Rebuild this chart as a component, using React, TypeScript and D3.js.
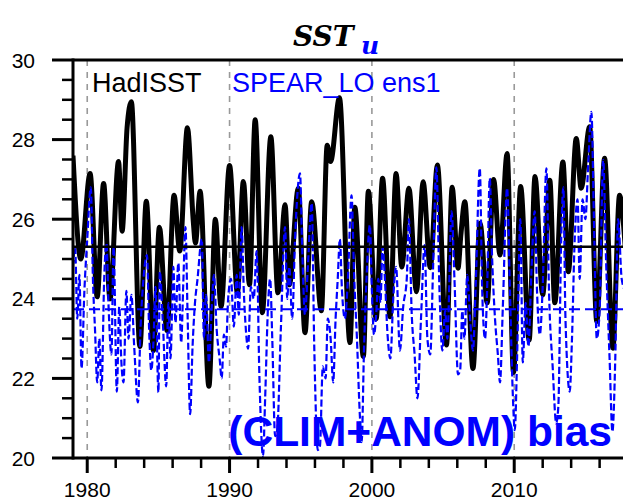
import React from 'react';
import * as d3 from 'd3';

const hadTime = [
  1979.0, 1979.55, 1980.2, 1980.7, 1981.15, 1981.6, 1982.2, 1982.45, 1982.8, 1983.1,
  1983.7, 1984.15, 1984.65, 1985.07, 1985.6, 1986.1, 1986.5, 1987.04, 1987.45, 1987.6,
  1987.93, 1988.55, 1989.0, 1989.4, 1990.0, 1990.55, 1990.97, 1991.4, 1991.8, 1992.3,
  1992.9, 1993.4, 1993.9, 1994.2, 1994.83, 1995.3, 1995.77, 1996.45, 1996.86, 1997.1,
  1997.72, 1998.46, 1998.8, 1999.4, 1999.75, 2000.3, 2000.75, 2001.27, 2001.7, 2002.1,
  2002.6, 2003.13, 2003.6, 2004.1, 2004.6, 2005.24, 2005.64, 2006.05, 2006.25, 2006.53,
  2007.1, 2007.6, 2008.1, 2008.55, 2009.0, 2009.5, 2009.95, 2010.45, 2011.05, 2011.46,
  2012.0, 2012.5, 2012.85, 2013.42, 2013.8, 2014.36, 2014.7, 2015.3, 2015.8, 2016.35,
  2016.93, 2017.4, 2017.8,
];
const hadValue = [
  27.6, 25.0, 27.15, 24.05, 26.9, 24.0, 27.45, 25.7, 28.3, 28.95,
  22.8, 26.45, 22.7, 25.8, 23.2, 26.6, 25.2, 28.3, 25.95, 25.4,
  26.7, 21.8, 26.0, 23.8, 27.35, 24.15, 26.95, 24.35, 28.5, 23.65,
  28.07, 24.15, 26.36, 24.35, 26.78, 23.15, 26.44, 23.7, 27.86, 27.45,
  29.05, 22.9, 26.3, 22.55, 26.7, 23.5, 27.03, 23.55, 27.15, 24.8,
  26.78, 24.18, 26.94, 24.78, 27.36, 22.84, 26.8, 24.77, 25.6, 26.44,
  22.25, 25.9, 23.9, 27.0, 25.1, 27.65, 22.15, 26.82, 22.96, 27.07,
  24.1, 26.98, 23.9, 27.44, 24.68, 28.03, 26.78, 28.32, 23.43, 27.53,
  22.76, 26.6, 25.3,
];

// SPEAR_LO ens1 (model)
const spearTime = [
  1979.0, 1979.15, 1979.3, 1979.45, 1979.6, 1979.8, 1980.0, 1980.25, 1980.4, 1980.55,
  1980.7, 1980.85, 1981.0, 1981.2, 1981.35, 1981.5, 1981.7, 1981.85, 1982.08, 1982.25,
  1982.4, 1982.55, 1982.75, 1982.9, 1983.1, 1983.3, 1983.56, 1983.75, 1983.95, 1984.2,
  1984.35, 1984.5, 1984.65, 1984.8, 1985.0, 1985.1, 1985.3, 1985.55, 1985.7, 1985.85,
  1986.05, 1986.2, 1986.4, 1986.6, 1986.75, 1986.9, 1987.05, 1987.23, 1987.4, 1987.55,
  1987.75, 1988.05, 1988.2, 1988.35, 1988.55, 1988.75, 1988.9, 1989.1, 1989.3, 1989.45,
  1989.6, 1989.75, 1989.9, 1990.1, 1990.3, 1990.5, 1990.65, 1990.85, 1991.0, 1991.15,
  1991.3, 1991.5, 1991.7, 1991.9, 1992.1, 1992.35, 1992.5, 1992.7, 1992.85, 1993.0,
  1993.2, 1993.35, 1993.6, 1993.9, 1994.05, 1994.2, 1994.4, 1994.6, 1994.95, 1995.1,
  1995.3, 1995.5, 1995.77, 1995.95, 1996.2, 1996.35, 1996.55, 1996.75, 1996.9, 1997.1,
  1997.28, 1997.45, 1997.6, 1997.75, 1997.9, 1998.1, 1998.3, 1998.57, 1998.75, 1998.95,
  1999.15, 1999.28, 1999.45, 1999.6, 1999.86, 2000.0, 2000.15, 2000.3, 2000.45, 2000.6,
  2000.75, 2000.9, 2001.1, 2001.3, 2001.5, 2001.7, 2001.97, 2002.2, 2002.45, 2002.6,
  2002.8, 2003.0, 2003.2, 2003.45, 2003.7, 2003.9, 2004.1, 2004.3, 2004.53, 2004.75,
  2004.95, 2005.15, 2005.3, 2005.6, 2005.8, 2006.05, 2006.2, 2006.35, 2006.5, 2006.7,
  2006.9, 2007.1, 2007.3, 2007.58, 2007.75, 2007.95, 2008.1, 2008.28, 2008.45, 2008.65,
  2008.85, 2009.0, 2009.2, 2009.5, 2009.7, 2009.9, 2010.04, 2010.2, 2010.43, 2010.6,
  2010.8, 2011.0, 2011.2, 2011.44, 2011.6, 2011.8, 2012.0, 2012.26, 2012.45, 2012.7,
  2012.95, 2013.1, 2013.3, 2013.45, 2013.6, 2013.9, 2014.05, 2014.25, 2014.45, 2014.6,
  2014.8, 2015.0, 2015.2, 2015.42, 2015.6, 2015.8, 2016.0, 2016.25, 2016.45, 2016.7,
  2016.9, 2017.1, 2017.3, 2017.55, 2017.8,
];
const spearValue = [
  24.8, 25.3, 23.5, 24.6, 22.25, 24.2, 25.5, 26.8, 24.5, 23.2,
  21.9, 23.0, 21.7, 24.6, 25.4, 23.8, 22.6, 25.3, 21.67, 23.8,
  22.4, 21.9, 24.2, 23.0, 24.1, 22.8, 21.4, 23.3, 24.5, 25.1,
  23.2, 22.2, 22.9, 24.3, 21.65, 24.68, 23.5, 21.8, 23.9, 22.5,
  24.8, 23.4, 24.9, 22.9, 24.4, 25.8, 23.6, 21.1, 22.8, 23.8,
  24.5, 25.5, 23.0, 24.1, 22.4, 23.8, 24.6, 23.2, 22.5, 22.0,
  23.1, 22.8, 24.0, 24.5, 23.3, 24.6, 23.6, 25.8, 24.2, 23.2,
  22.75, 24.3, 24.0, 25.2, 22.0, 20.05, 21.5, 23.8, 24.5, 23.0,
  20.55, 20.7, 23.2, 25.8, 24.0, 24.8, 23.5, 25.5, 27.15, 25.3,
  23.6, 24.8, 26.4, 22.8, 20.2, 20.3, 22.3, 22.0, 23.5, 23.0,
  21.9, 23.5, 24.5, 25.5, 24.2, 23.5, 24.4, 26.6, 24.6, 23.0,
  21.1, 20.4, 22.8, 24.3, 25.85, 24.2, 23.1, 23.6, 24.5, 23.9,
  25.3, 24.6, 23.1, 22.5, 24.0, 24.8, 22.7, 23.8, 24.5, 26.0,
  23.6, 22.6, 21.5, 23.5, 25.35, 23.0, 22.6, 24.8, 27.3, 24.2,
  22.7, 23.7, 23.0, 26.2, 24.5, 22.1, 22.2, 23.7, 23.0, 24.6,
  23.5, 22.7, 24.4, 27.28, 24.2, 23.0, 24.3, 27.03, 25.0, 23.5,
  22.6, 21.9, 23.8, 26.78, 24.2, 21.6, 20.7, 22.5, 26.0, 22.4,
  23.9, 22.8, 24.6, 26.2, 24.2, 23.1, 24.3, 27.28, 24.1, 22.3,
  20.87, 21.3, 25.5, 26.8, 23.5, 21.67, 22.9, 25.5, 26.5, 24.5,
  26.5, 26.0, 27.4, 28.7, 26.0, 23.0, 23.7, 27.49, 25.0, 22.5,
  20.66, 22.5, 26.0, 24.5, 24.2,
];

const hadMean = 25.31;
const spearMean = 23.74;

const yMajorTicks = [20, 22, 24, 26, 28, 30];
const xMajorTicks = [1980, 1990, 2000, 2010];
const seriesNames = ['HadISST', 'SPEAR_LO ens1'];
const titleMain = 'SST';
const titleSub = 'u';
const panelNote = '(CLIM+ANOM) bias';

const W = 623;
const H = 501;
const left = 73;
const top = 60;
const bottom = 458;
const pxPerYear = 14.233;

export default function App() {
  const x = d3.scaleLinear().domain([1979, 2019]).range([left, left + 40 * pxPerYear]);
  const y = d3.scaleLinear().domain([20, 30]).range([bottom, top]);
  const right = x(2019);

  const hadPts: [number, number][] = hadTime.map((t, i) => [t, hadValue[i]]);
  const spearPts: [number, number][] = spearTime.map((t, i) => [t, spearValue[i]]);

  const hadLine = d3
    .line<[number, number]>()
    .x((d) => x(d[0]))
    .y((d) => y(d[1]))
    .curve(d3.curveMonotoneX);
  const spearLine = d3
    .line<[number, number]>()
    .x((d) => x(d[0]))
    .y((d) => y(d[1]))
    .curve(d3.curveMonotoneX);

  const yMinor = d3.range(20, 30.001, 0.5).filter((v) => !yMajorTicks.includes(v));
  const xMinor = d3.range(1980, 2019, 2).filter((v) => !xMajorTicks.includes(v));

  const font = "'Liberation Sans', Arial, Helvetica, sans-serif";

  return (
    <svg
      width={W}
      height={H}
      style={{ position: 'absolute', left: 0, top: 0, background: '#fff' }}
    >
      <defs>
        <clipPath id="plotClip">
          <rect x={left} y={top} width={right - left} height={bottom - top} />
        </clipPath>
      </defs>
      <rect x={0} y={0} width={W} height={H} fill="#fff" />

      {/* title */}
      <text
        x={293}
        y={46}
        fontFamily="'DejaVu Serif', 'Liberation Serif', serif"
        fontWeight="bold"
        fontStyle="italic"
        fontSize={28}
        fill="#000"
      >
        {titleMain}
      </text>
      <text
        x={361}
        y={54}
        fontFamily="'DejaVu Serif', 'Liberation Serif', serif"
        fontWeight="bold"
        fontStyle="italic"
        fontSize={25}
        fill="#0000ff"
      >
        {titleSub}
      </text>

      {/* vertical reference lines */}
      {xMajorTicks.map((t) => (
        <line
          key={'v' + t}
          x1={x(t)}
          x2={x(t)}
          y1={top}
          y2={bottom}
          stroke="#999"
          strokeWidth={1.6}
          strokeDasharray="6,6"
        />
      ))}

      <g clipPath="url(#plotClip)">
        <path d={hadLine(hadPts) || ''} fill="none" stroke="#000" strokeWidth={5} strokeLinejoin="round" />
        <path
          d={spearLine(spearPts) || ''}
          fill="none"
          stroke="#0000ff"
          strokeWidth={2.2}
          strokeDasharray="7,3"
        />
        <line x1={left} x2={right} y1={y(hadMean)} y2={y(hadMean)} stroke="#000" strokeWidth={2.5} />
        <line
          x1={left}
          x2={right}
          y1={y(spearMean)}
          y2={y(spearMean)}
          stroke="#0000ff"
          strokeWidth={2}
          strokeDasharray="11,5"
        />
      </g>

      {/* legend labels */}
      <text x={92} y={92} fontFamily={font} fontSize={27} fill="#000">
        {seriesNames[0]}
      </text>
      <text x={232} y={92} fontFamily={font} fontSize={27} fill="#0000ff">
        {seriesNames[1]}
      </text>

      {/* panel note */}
      <text
        x={612}
        y={446}
        textAnchor="end"
        fontFamily={font}
        fontWeight="bold"
        fontSize={42.5}
        fill="#0000ff"
      >
        {panelNote}
      </text>

      {/* axes frame */}
      <line x1={left} x2={right} y1={top} y2={top} stroke="#000" strokeWidth={3} />
      <line x1={left} x2={right} y1={bottom} y2={bottom} stroke="#000" strokeWidth={3} />
      <line x1={left} x2={left} y1={top - 1.5} y2={bottom + 1.5} stroke="#000" strokeWidth={3} />

      {/* y ticks */}
      {yMajorTicks.map((v) => (
        <g key={'yt' + v}>
          <line x1={left - 21} x2={left} y1={y(v)} y2={y(v)} stroke="#000" strokeWidth={3} />
          <text
            x={35}
            y={y(v) + 7.5}
            textAnchor="end"
            fontFamily={font}
            fontSize={21}
            fill="#000"
          >
            {v}
          </text>
        </g>
      ))}
      {yMinor.map((v) => (
        <line key={'ym' + v} x1={left - 11} x2={left} y1={y(v)} y2={y(v)} stroke="#000" strokeWidth={2.5} />
      ))}

      {/* x ticks */}
      {xMajorTicks.map((t) => (
        <g key={'xt' + t}>
          <line x1={x(t)} x2={x(t)} y1={bottom} y2={bottom + 15} stroke="#000" strokeWidth={3} />
          <text
            x={x(t)}
            y={497}
            textAnchor="middle"
            fontFamily={font}
            fontSize={21}
            fill="#000"
          >
            {t}
          </text>
        </g>
      ))}
      {xMinor.map((t) => (
        <line key={'xm' + t} x1={x(t)} x2={x(t)} y1={bottom} y2={bottom + 10} stroke="#000" strokeWidth={2.5} />
      ))}
    </svg>
  );
}
